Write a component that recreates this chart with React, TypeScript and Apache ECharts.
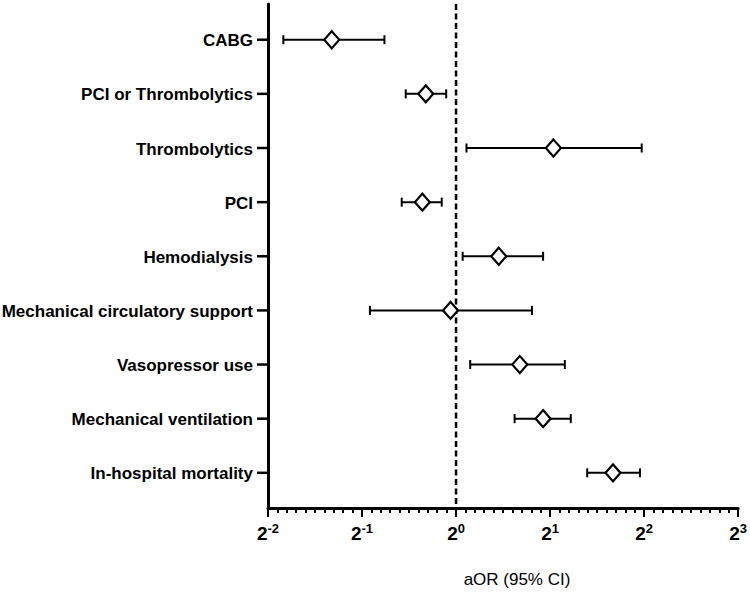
import React, { useEffect, useRef } from "react";
import * as echarts from "echarts";

// Outcomes, top to bottom
const categories: string[] = [
  "CABG",
  "PCI or Thrombolytics",
  "Thrombolytics",
  "PCI",
  "Hemodialysis",
  "Mechanical circulatory support",
  "Vasopressor use",
  "Mechanical ventilation",
  "In-hospital mortality",
];

// Adjusted odds ratios and 95% CI
const aor: number[] = [0.40, 0.80, 2.05, 0.78, 1.37, 0.96, 1.60, 1.90, 3.18];
const ciLow: number[] = [0.28, 0.69, 1.08, 0.67, 1.05, 0.53, 1.11, 1.54, 2.63];
const ciHigh: number[] = [0.59, 0.93, 3.93, 0.90, 1.90, 1.75, 2.23, 2.33, 3.88];

// x axis exponents (base 2)
const xExpMin = -2;
const xExpMax = 3;
const nullValue = 1; // aOR = 1 reference line

const xTitle = "aOR (95% CI)";

export default function App() {
  const ref = useRef<HTMLDivElement>(null);

  useEffect(() => {
    if (!ref.current) return;
    const chart = echarts.init(ref.current, undefined, { renderer: "svg" });
    const n = categories.length;
    const yOf = (i: number) => n - i;
    const yMin = 0.35;
    const yMax = 9.66;

    const barData = categories.map((c, i) => [
      Math.log2(ciLow[i]),
      Math.log2(ciHigh[i]),
      yOf(i),
    ]);
    const pointData = categories.map((c, i) => [Math.log2(aor[i]), yOf(i)]);
    const labelData = categories.map((c, i) => [xExpMin, yOf(i), c]);

    const font = "Arial, 'Liberation Sans', sans-serif";

    const option: any = {
      animation: false,
      backgroundColor: "#ffffff",
      grid: { left: 268, right: 11, top: 4, bottom: 84, containLabel: false },
      xAxis: {
        type: "value",
        min: xExpMin,
        max: xExpMax,
        interval: 1,
        axisLine: { show: true, onZero: false, lineStyle: { color: "#000", width: 3 } },
        axisTick: { show: true, length: 9, lineStyle: { color: "#000", width: 2 } },
        minorTick: { show: true, splitNumber: 10, length: 5, lineStyle: { color: "#000", width: 2 } },
        splitLine: { show: false },
        axisLabel: {
          margin: 15,
          formatter: (v: number) => `{b|2}{s|${Math.round(v)}}`,
          rich: {
            b: { fontFamily: font, fontWeight: "bold", fontSize: 19, color: "#000", lineHeight: 20 },
            s: {
              fontFamily: font,
              fontWeight: "bold",
              fontSize: 13,
              color: "#000",
              lineHeight: 20,
              padding: [0, 0, 10, 0],
            },
          },
        },
      },
      yAxis: {
        type: "value",
        min: yMin,
        max: yMax,
        axisLine: { show: true, onZero: false, lineStyle: { color: "#000", width: 3 } },
        axisTick: { show: false },
        axisLabel: { show: false },
        splitLine: { show: false },
      },
      graphic: [
        {
          type: "text",
          x: 517,
          y: 579,
          style: {
            text: xTitle,
            fontFamily: font,
            fontSize: 17,
            fill: "#000",
            align: "center",
            verticalAlign: "middle",
          },
        },
      ],
      series: [
        {
          // dashed reference line at aOR = 1
          type: "custom",
          clip: false,
          silent: true,
          data: [[Math.log2(nullValue), yMin, yMax]],
          renderItem: (params: any, api: any) => {
            const top = api.coord([api.value(0), api.value(2)]);
            const bot = api.coord([api.value(0), api.value(1)]);
            return {
              type: "line",
              shape: { x1: top[0], y1: top[1], x2: bot[0], y2: bot[1] },
              style: { stroke: "#000", lineWidth: 2.5, lineDash: [6, 3.5] },
            };
          },
        },
        {
          type: "custom",
          clip: false,
          silent: true,
          data: labelData,
          renderItem: (params: any, api: any) => {
            const p = api.coord([api.value(0), api.value(1)]);
            const name = labelData[params.dataIndex][2] as string;
            return {
              type: "group",
              children: [
                {
                  type: "line",
                  shape: { x1: p[0] - 11, y1: p[1], x2: p[0], y2: p[1] },
                  style: { stroke: "#000", lineWidth: 2.5 },
                },
                {
                  type: "text",
                  style: {
                    text: name,
                    x: p[0] - 15,
                    y: p[1] + 1,
                    align: "right",
                    verticalAlign: "middle",
                    fontFamily: font,
                    fontWeight: "bold",
                    fontSize: 17,
                    fill: "#000",
                  },
                },
              ],
            };
          },
        },
        {
          type: "custom",
          silent: true,
          data: barData,
          renderItem: (params: any, api: any) => {
            const a = api.coord([api.value(0), api.value(2)]);
            const b = api.coord([api.value(1), api.value(2)]);
            const h = 4.5;
            const st = { stroke: "#000", lineWidth: 2 };
            return {
              type: "group",
              children: [
                { type: "line", shape: { x1: a[0], y1: a[1], x2: b[0], y2: b[1] }, style: st },
                { type: "line", shape: { x1: a[0], y1: a[1] - h, x2: a[0], y2: a[1] + h }, style: st },
                { type: "line", shape: { x1: b[0], y1: b[1] - h, x2: b[0], y2: b[1] + h }, style: st },
              ],
            };
          },
        },
        {
          type: "scatter",
          data: pointData,
          symbol: "diamond",
          symbolSize: [15, 17],
          itemStyle: { color: "#fff", borderColor: "#000", borderWidth: 2.2, opacity: 1 },
          z: 5,
        },
      ],
    };

    chart.setOption(option);
    return () => chart.dispose();
  }, []);

  return (
    <div
      ref={ref}
      style={{ position: "fixed", left: 0, top: 0, width: 750, height: 592, background: "#fff" }}
    />
  );
}
